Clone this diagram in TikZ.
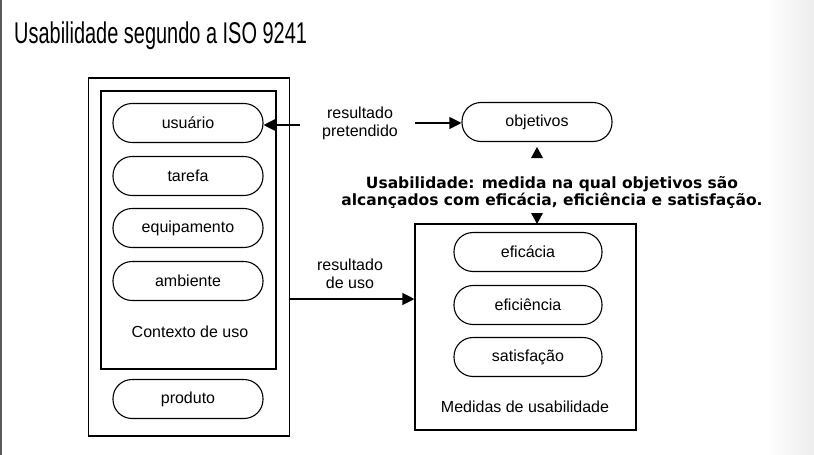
\documentclass[tikz,border=0pt]{standalone}
\usepackage{fontspec}
\setmainfont{Liberation Sans}
\newfontfamily\boldfont{DejaVu Sans}
\usetikzlibrary{arrows.meta}
\tikzset{
  pill/.style={draw, line width=1.1pt, rounded corners=19pt, minimum width=150pt, minimum height=39pt, inner sep=0pt, font=\fontsize{16}{19}\selectfont},
  frame/.style={draw, line width=1.1pt},
  lbl/.style={font=\fontsize{16}{18}\selectfont, align=center, inner sep=0pt},
  conn/.style={line width=1.1pt, -{Triangle[length=12pt,width=12pt]}},
}
\begin{document}
\begin{tikzpicture}[x=1pt,y=-1pt]
\useasboundingbox (0,0) rectangle (814,455);
\shade[left color=white, right color=black!7] (765,0) rectangle (814,455);
\draw[line width=1.5pt, black!65] (1,0) -- (1,455);
% title
\node[anchor=base west, inner sep=0pt] (title) at (14,43.5) {\scalebox{0.665}[1]{\fontsize{30}{32}\selectfont Usabilidade segundo a ISO 9241}};
% left boxes
\node[frame, minimum width=201pt, minimum height=358pt, inner sep=0pt] (outer) at (189,257) {};
\node[frame, minimum width=175pt, minimum height=278pt, inner sep=0pt] (inner) at (188.5,230) {};
\node[pill] (usuario) at (188,123) {usuário};
\node[pill] (tarefa) at (188,176) {tarefa};
\node[pill] (equip) at (188,228) {equipamento};
\node[pill] (amb) at (188,281) {ambiente};
\node[lbl] (ctx) at (190,332) {Contexto de uso};
\node[pill] (produto) at (188,399) {produto};
% right box
\node[frame, minimum width=221pt, minimum height=206pt, inner sep=0pt] (med) at (525.5,327) {};
\node[pill, minimum width=148pt] (efic) at (528,252) {eficácia};
\node[pill, minimum width=148pt] (efi) at (528,305) {eficiência};
\node[pill, minimum width=148pt] (sat) at (528,357) {satisfação};
\node[lbl] (medlbl) at (525,407) {Medidas de usabilidade};
% objetivos
\node[pill] (obj) at (537,122) {objetivos};
% labels
\node[lbl] (respret) at (360,123) {resultado\\pretendido};
\node[lbl] (resuso) at (350,274) {resultado\\de uso};
\node[font=\boldfont\bfseries\fontsize{15.5}{17}\selectfont, align=center, inner sep=0pt] (def) at (552,192) {Usabilidade: medida na qual objetivos são\\alcançados com eficácia, eficiência e satisfação.};
% connectors
\coordinate (c1) at (300,125);
\coordinate (c2) at (415,123);
\draw[conn] (c1) -- (usuario.east |- c1);
\draw[conn] (c2) -- (obj.west |- c2);
\draw[conn] (outer.east |- 0,299) -- (med.west |- 0,299);
% triangles
\fill (531,158) -- (543,158) -- (537,147) -- cycle;
\fill (531,213) -- (543,213) -- (537,224) -- cycle;
\end{tikzpicture}
\end{document}
